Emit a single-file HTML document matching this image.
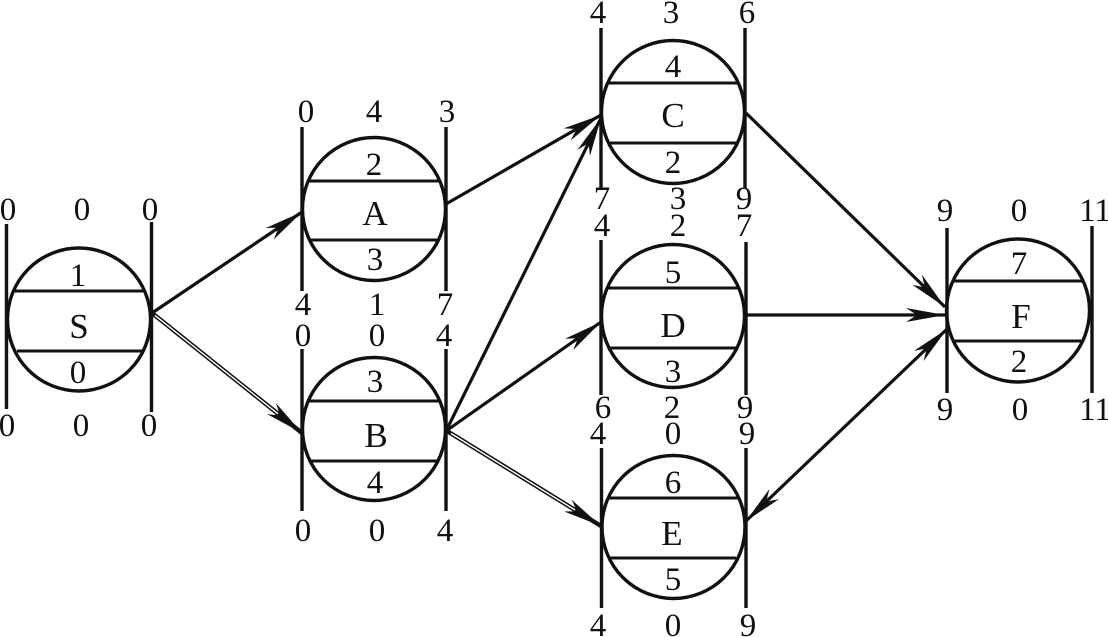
<!DOCTYPE html>
<html><head><meta charset="utf-8"><style>
html,body{margin:0;padding:0;background:#fff}
svg{display:block}
text{font-family:"Liberation Serif",serif;font-size:33px;text-anchor:middle;fill:#111}
text.l{font-size:35px}
.c{fill:none;stroke:#111;stroke-width:3.4}
.v{stroke:#111;stroke-width:3.4}
.h{stroke:#111;stroke-width:3}
.a{stroke:#111;stroke-width:3.2;fill:none}
</style></head><body>
<svg width="1108" height="637" viewBox="0 0 1108 637" xmlns="http://www.w3.org/2000/svg">
<defs>
<marker id="m" markerUnits="userSpaceOnUse" markerWidth="46" markerHeight="22" refX="42" refY="11" orient="auto-start-reverse">
<path d="M42,11 L3,4 L14,11 L3,18 Z" fill="#111"/>
</marker>
</defs>

<!-- S -->
<circle class="c" cx="79" cy="319.5" r="71.5"/>
<path class="v" d="M6.5,224V409M151.5,222V412"/>
<path class="h" d="M14,291H145M17,351H142"/>
<text x="8" y="220">0</text><text x="82" y="220">0</text><text x="150" y="220">0</text>
<text x="78" y="286">1</text><text class="l" x="79" y="338">S</text><text x="78" y="383">0</text>
<text x="7" y="436">0</text><text x="81" y="436">0</text><text x="149" y="436">0</text>

<!-- A -->
<circle class="c" cx="374" cy="209" r="71.5"/>
<path class="v" d="M302,127V291M446,127V291"/>
<path class="h" d="M309,181H439M311,240H437"/>
<text x="306" y="122">0</text><text x="374" y="122">4</text><text x="447" y="122">3</text>
<text x="374" y="175">2</text><text class="l" x="375" y="225">A</text><text x="375" y="270">3</text>
<text x="303" y="315">4</text><text x="377" y="315">1</text><text x="445" y="315">7</text>

<!-- B -->
<circle class="c" cx="374" cy="429" r="71.5"/>
<path class="v" d="M302,349V511M446,349V511"/>
<path class="h" d="M309,401H439M311,461H437"/>
<text x="303" y="346">0</text><text x="377" y="346">0</text><text x="444" y="346">4</text>
<text x="375" y="392">3</text><text class="l" x="376" y="447">B</text><text x="375" y="493">4</text>
<text x="303" y="541">0</text><text x="377" y="541">0</text><text x="445" y="541">4</text>

<!-- C -->
<circle class="c" cx="673" cy="112" r="71.5"/>
<path class="v" d="M601,28V188M745,28V188"/>
<path class="h" d="M608,83H738M610,143H736"/>
<text x="598" y="23">4</text><text x="671" y="23">3</text><text x="747" y="23">6</text>
<text x="673" y="77">4</text><text class="l" x="673" y="127">C</text><text x="673" y="173">2</text>
<text x="602" y="209">7</text><text x="678" y="209">3</text><text x="744" y="209">9</text>

<!-- D -->
<circle class="c" cx="673" cy="316" r="71.5"/>
<path class="v" d="M601,240V395M746,242V395"/>
<path class="h" d="M608,288H738M610,348H736"/>
<text x="602" y="236">4</text><text x="678" y="236">2</text><text x="744" y="236">7</text>
<text x="673" y="283">5</text><text class="l" x="673" y="337">D</text><text x="673" y="382">3</text>
<text x="603" y="418">6</text><text x="672" y="418">2</text><text x="745" y="418">9</text>

<!-- E -->
<circle class="c" cx="673.5" cy="527" r="71.5"/>
<path class="v" d="M601.5,448V608M746,448V608"/>
<path class="h" d="M608,498H738M610,558H736"/>
<text x="598" y="444">4</text><text x="673" y="444">0</text><text x="747" y="444">9</text>
<text x="673" y="493">6</text><text class="l" x="672" y="545">E</text><text x="673" y="590">5</text>
<text x="598" y="636">4</text><text x="673" y="636">0</text><text x="748" y="636">9</text>

<!-- F -->
<circle class="c" cx="1018" cy="310.5" r="71.5"/>
<path class="v" d="M947,228V393M1092,226V393"/>
<path class="h" d="M953,281H1083M955,341H1081"/>
<text x="945" y="221">9</text><text x="1019" y="221">0</text><text x="1095" y="221">11</text>
<text x="1019" y="274">7</text><text class="l" x="1021" y="328">F</text><text x="1019" y="372">2</text>
<text x="945" y="420">9</text><text x="1020" y="420">0</text><text x="1095" y="420">11</text>

<!-- arrows -->
<line class="a" x1="152" y1="313" x2="302" y2="212" marker-end="url(#m)"/>
<line class="a" x1="446" y1="204" x2="601" y2="115" marker-end="url(#m)"/>
<line class="a" x1="446" y1="431" x2="601" y2="118" marker-end="url(#m)"/>
<line class="a" x1="446" y1="431" x2="601" y2="322" marker-end="url(#m)"/>
<line class="a" x1="746" y1="113" x2="945" y2="307" marker-end="url(#m)"/>
<line class="a" x1="747" y1="315" x2="945" y2="315" marker-end="url(#m)"/>
<line class="a" x1="746" y1="521" x2="947" y2="329" marker-start="url(#m)" marker-end="url(#m)"/>

<!-- double-line arrows -->
<line x1="152" y1="313" x2="302" y2="433" stroke="#111" stroke-width="4.4" marker-end="url(#m)"/>
<line x1="155" y1="315.4" x2="278" y2="413.8" stroke="#fff" stroke-width="1.4"/>
<line x1="447" y1="431" x2="601" y2="526" stroke="#111" stroke-width="4.4" marker-end="url(#m)"/>
<line x1="451" y1="433.5" x2="575" y2="510" stroke="#fff" stroke-width="1.4"/>
</svg>
</body></html>
